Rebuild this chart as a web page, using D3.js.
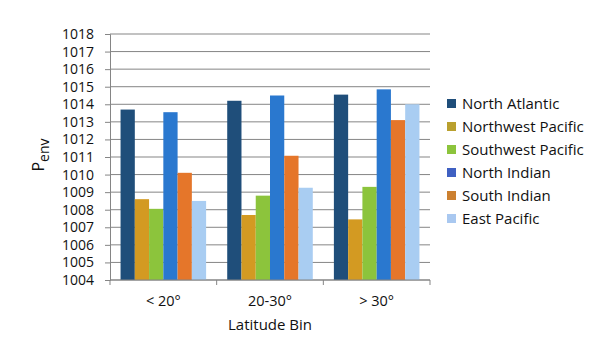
<!DOCTYPE html>
<html>
<head>
<meta charset="utf-8">
<script src="https://cdn.jsdelivr.net/npm/d3@7"></script>
<style>
  body { margin: 0; background: #fff; }
  text { font-family: "Open Sans", "Noto Sans", sans-serif; fill: #111; }
</style>
</head>
<body>
<div id="chart"></div>
<script>
const bins = ['< 20°', '20-30°', '> 30°'];
const basins = ['North Atlantic', 'Northwest Pacific', 'Southwest Pacific', 'North Indian', 'South Indian', 'East Pacific'];
const northAtlantic = [1013.7, 1014.2, 1014.55];
const northwestPacific = [1008.6, 1007.7, 1007.45];
const southwestPacific = [1008.05, 1008.8, 1009.3];
const northIndian = [1013.55, 1014.5, 1014.85];
const southIndian = [1010.1, 1011.07, 1013.1];
const eastPacific = [1008.5, 1009.25, 1014.0];
const yTicks = d3.range(1004, 1019, 1);

const seriesValues = [northAtlantic, northwestPacific, southwestPacific, northIndian, southIndian, eastPacific];
const colors = ['#1f4e7a', '#d39a22', '#8cc43c', '#2a78cf', '#e5762a', '#a9cdf2'];
const legendColors = ['#1f4e7a', '#b9a02e', '#8cc43c', '#3f60c2', '#cc8030', '#a9c8f0'];

const margin = { top: 34, right: 182, bottom: 72, left: 110 };
const width = 612 - margin.left - margin.right;
const height = 352 - margin.top - margin.bottom;

const root = d3.select('#chart')
  .append('svg')
  .attr('width', 612)
  .attr('height', 352);

const svg = root.append('g')
  .attr('transform', `translate(${margin.left}, ${margin.top})`);

const x0 = d3.scaleBand()
  .domain(bins)
  .range([0, width])
  .padding(0);

const x1 = d3.scaleBand()
  .domain(basins)
  .range([0, x0.bandwidth()])
  .paddingInner(0)
  .paddingOuter(0.74);

const yScale = d3.scaleLinear()
  .domain([1004, 1018])
  .range([height, 0]);

// gridlines
svg.append('g')
  .selectAll('line')
  .data(yTicks)
  .enter()
  .append('line')
  .attr('x1', 0)
  .attr('x2', width)
  .attr('y1', d => yScale(d))
  .attr('y2', d => yScale(d))
  .attr('stroke', '#858585')
  .attr('stroke-width', 1);

// bars
const rows = [];
bins.forEach((b, i) => {
  basins.forEach((s, j) => {
    rows.push({ bin: b, basin: s, value: seriesValues[j][i], color: colors[j] });
  });
});

svg.selectAll('.bar')
  .data(rows)
  .enter()
  .append('rect')
  .attr('class', 'bar')
  .attr('x', d => x0(d.bin) + x1(d.basin))
  .attr('y', d => yScale(d.value))
  .attr('width', x1.bandwidth())
  .attr('height', d => height - yScale(d.value))
  .attr('fill', d => d.color);

// y axis
const yAxis = d3.axisLeft(yScale).tickValues(yTicks).tickFormat(d3.format('d')).tickSize(5).tickPadding(11);
const gy = svg.append('g').attr('class', 'y-axis').call(yAxis);
gy.select('.domain').attr('stroke', '#858585');
gy.selectAll('.tick line').attr('stroke', '#858585');
gy.selectAll('.tick text').attr('font-size', '14px').attr('fill', '#111');

// x axis with ticks at group boundaries
const gx = svg.append('g')
  .attr('transform', `translate(0, ${height})`);
gx.append('line')
  .attr('x1', 0).attr('x2', width)
  .attr('stroke', '#858585');
gx.selectAll('.bound')
  .data(bins.concat(['end']))
  .enter()
  .append('line')
  .attr('x1', (d, i) => i < bins.length ? x0(d) : width)
  .attr('x2', (d, i) => i < bins.length ? x0(d) : width)
  .attr('y1', 0).attr('y2', 5)
  .attr('stroke', '#858585');
gx.selectAll('.lab')
  .data(bins)
  .enter()
  .append('text')
  .attr('x', d => x0(d) + x0.bandwidth() / 2)
  .attr('y', 26)
  .attr('text-anchor', 'middle')
  .attr('font-size', '14.5px')
  .text(d => d);

svg.append('text')
  .attr('x', width / 2)
  .attr('y', height + 50)
  .attr('text-anchor', 'middle')
  .attr('font-size', '15px')
  .text('Latitude Bin');

// y label with subscript
const yl = root.append('text')
  .attr('transform', `translate(44, ${margin.top + height / 2 - 2}) rotate(-90)`)
  .attr('text-anchor', 'middle')
  .attr('font-size', '16px');
yl.append('tspan').text('P');
yl.append('tspan').attr('dy', 5).attr('font-size', '14px').text('env');

// legend
const legend = root.append('g')
  .attr('transform', 'translate(447, 99)');
const items = legend.selectAll('.item')
  .data(basins)
  .enter()
  .append('g')
  .attr('transform', (d, i) => `translate(0, ${i * 23})`);
items.append('rect')
  .attr('width', 9)
  .attr('height', 9)
  .attr('fill', (d, i) => legendColors[i]);
items.append('text')
  .attr('x', 15)
  .attr('y', 10)
  .attr('font-size', '15px')
  .text(d => d);
</script>
</body>
</html>
